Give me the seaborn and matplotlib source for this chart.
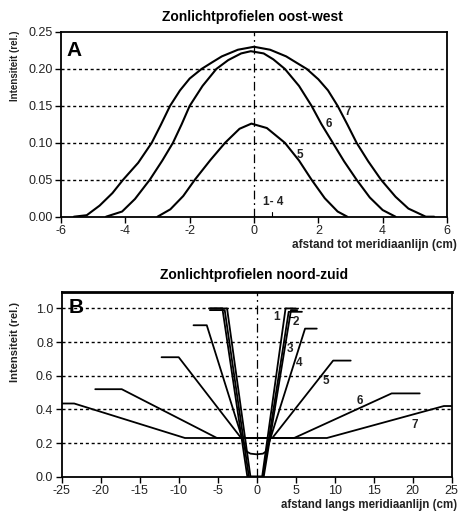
import matplotlib
matplotlib.use("Agg")
import matplotlib.pyplot as plt
import seaborn as sns

sns.set_theme(style="white")
plt.rcParams['font.family'] = ['Liberation Sans', 'DejaVu Sans']
plt.rcParams['axes.unicode_minus'] = False

# ---------------- Panel A data (oost-west) ----------------
a7_x = [-5.6, -5.2, -4.8, -4.4, -4.07, -3.6, -3.18, -2.9, -2.61, -2.3, -2.0, -1.63, -1.3, -1.0, -0.5, 0.0, 0.5, 1.0, 1.3, 1.64, 2.0, 2.3, 2.6, 2.9, 3.19, 3.55, 3.95, 4.4, 4.8, 5.34, 5.6]
a7_y = [0.0, 0.002, 0.015, 0.032, 0.05, 0.073, 0.10, 0.124, 0.15, 0.171, 0.187, 0.20, 0.209, 0.217, 0.226, 0.23, 0.226, 0.217, 0.209, 0.20, 0.186, 0.171, 0.15, 0.125, 0.10, 0.075, 0.05, 0.027, 0.011, 0.0, 0.0]
a6_x = [-4.6, -4.1, -3.7, -3.24, -2.85, -2.52, -2.25, -2.0, -1.6, -1.17, -0.8, -0.4, -0.1, 0.3, 0.6, 0.96, 1.4, 1.79, 2.1, 2.45, 2.8, 3.19, 3.6, 4.0, 4.4]
a6_y = [0.0, 0.007, 0.024, 0.05, 0.076, 0.10, 0.125, 0.15, 0.177, 0.20, 0.212, 0.221, 0.224, 0.221, 0.213, 0.20, 0.177, 0.15, 0.125, 0.10, 0.075, 0.05, 0.026, 0.009, 0.0]
a5_x = [-3.0, -2.6, -2.2, -1.84, -1.35, -0.9, -0.45, -0.08, 0.4, 0.96, 1.4, 1.79, 2.2, 2.6, 2.9]
a5_y = [0.0, 0.01, 0.028, 0.05, 0.077, 0.10, 0.119, 0.126, 0.12, 0.10, 0.076, 0.05, 0.025, 0.007, 0.0]
a_labels = ["7", "6", "5", "1- 4"]
a_label_x = [2.92, 2.33, 1.42, 0.59]
a_label_y = [0.142, 0.125, 0.083, 0.02]

# ---------------- Panel B data (noord-zuid) ----------------
b1_x = [-6.1, -4.4, -1.2, 0.7, 3.7, 5.0]
b1_y = [1.0, 1.0, 0.0, 0.0, 1.0, 1.0]
b2_x = [-6.0, -4.1, -1.0, 0.8, 4.1, 5.8]
b2_y = [0.99, 0.99, 0.0, 0.0, 0.98, 0.98]
b3_x = [-5.9, -3.8, -0.8, 0.9, 4.4, 5.2]
b3_y = [1.0, 1.0, 0.0, 0.0, 0.99, 0.99]
b4_x = [-8.1, -6.4, -1.6, -1.3, -0.8, 0.0, 0.8, 1.2, 1.5, 6.2, 7.7]
b4_y = [0.90, 0.90, 0.19, 0.15, 0.137, 0.133, 0.137, 0.15, 0.19, 0.88, 0.88]
b5_x = [-12.2, -10.0, -2.0, 2.0, 9.8, 12.05]
b5_y = [0.71, 0.71, 0.23, 0.23, 0.69, 0.69]
b6_x = [-20.7, -17.3, -5.1, 4.8, 17.3, 20.9]
b6_y = [0.52, 0.52, 0.23, 0.23, 0.495, 0.495]
b7_x = [-25.0, -23.4, -9.2, 9.0, 24.0, 25.0]
b7_y = [0.435, 0.435, 0.23, 0.23, 0.42, 0.42]
b_labels = ["1", "2", "3", "4", "5", "6", "7"]
b_label_x = [2.55, 5.0, 4.25, 5.5, 8.9, 13.25, 20.3]
b_label_y = [0.95, 0.92, 0.76, 0.675, 0.57, 0.45, 0.31]

W, H = 458, 513
fig = plt.figure(figsize=(W / 100, H / 100), dpi=100)
fig.patch.set_facecolor("white")

axA = fig.add_axes([61 / W, 1 - 216.7 / H, (447 - 61) / W, (216.7 - 32) / H])
axB = fig.add_axes([61.7 / W, 1 - 476.7 / H, (451.7 - 61.7) / W, (476.7 - 291.6) / H])

txt = "#222222"
grid_ls = (0, (2.2, 2.0))

def style(ax):
    ax.set_facecolor("white")
    for s in ax.spines.values():
        s.set_color("black")
        s.set_linewidth(1.3)
        s.set_visible(True)
    ax.tick_params(direction="out", length=4, width=1, colors="black",
                   labelcolor=txt, labelsize=9, pad=2, left=True, bottom=True)

# Panel A
for xs, ys in [(a7_x, a7_y), (a6_x, a6_y), (a5_x, a5_y)]:
    sns.lineplot(x=xs, y=ys, ax=axA, color="black", lw=1.5, sort=False, estimator=None)
axA.set_xlim(-6, 6)
axA.set_ylim(0, 0.25)
axA.set_xticks([-6, -4, -2, 0, 2, 4, 6])
axA.set_yticks([0.0, 0.05, 0.10, 0.15, 0.20, 0.25])
axA.set_yticklabels([f"{v:.2f}" for v in [0.0, 0.05, 0.10, 0.15, 0.20, 0.25]])
for g in [0.05, 0.10, 0.15, 0.20]:
    axA.axhline(g, color="black", lw=1.0, ls=grid_ls, zorder=0)
axA.axvline(0, color="black", lw=0.9, ls=(0, (7, 3, 1.5, 3)), zorder=0)
axA.plot([0.55, 0.55], [0.0, 0.007], color="black", lw=0.8)
for t, x, y in zip(a_labels, a_label_x, a_label_y):
    axA.text(x, y, t, fontsize=8.5, fontweight="bold", color=txt, ha="center", va="center")
axA.text(0.015, 0.9, "A", transform=axA.transAxes, fontsize=15, fontweight="bold",
         ha="left", va="center", color="black")
style(axA)
axA.set_xlabel("")
axA.set_ylabel("")

# Panel B
for xs, ys in [(b1_x, b1_y), (b2_x, b2_y), (b3_x, b3_y), (b4_x, b4_y),
               (b5_x, b5_y), (b6_x, b6_y), (b7_x, b7_y)]:
    sns.lineplot(x=xs, y=ys, ax=axB, color="black", lw=1.3, sort=False, estimator=None)
axB.set_xlim(-25, 25)
axB.set_ylim(0, 1.1)
axB.set_xticks(list(range(-25, 26, 5)))
axB.set_yticks([0.0, 0.2, 0.4, 0.6, 0.8, 1.0])
axB.set_yticklabels([f"{v:.1f}" for v in [0.0, 0.2, 0.4, 0.6, 0.8, 1.0]])
for g in [0.2, 0.4, 0.6, 0.8, 1.0]:
    axB.axhline(g, color="black", lw=1.0, ls=grid_ls, zorder=0)
axB.axvline(0, color="black", lw=0.9, ls=(0, (7, 3, 1.5, 3)), zorder=0)
axB.plot([4.1, 4.7], [0.95, 0.95], color="black", lw=0.8)
for t, x, y in zip(b_labels, b_label_x, b_label_y):
    axB.text(x, y, t, fontsize=8.5, fontweight="bold", color=txt, ha="center", va="center")
axB.text(0.017, 0.915, "B", transform=axB.transAxes, fontsize=15, fontweight="bold",
         ha="left", va="center", color="black")
style(axB)
axB.spines["top"].set_linewidth(2.0)
axB.set_xlabel("")
axB.set_ylabel("")

# Titles and axis labels
fig.text(252 / W, 1 - 17 / H, "Zonlichtprofielen oost-west", ha="center", va="center",
         fontsize=10, fontweight="bold", color="black")
fig.text(254 / W, 1 - 275 / H, "Zonlichtprofielen noord-zuid", ha="center", va="center",
         fontsize=10, fontweight="bold", color="black")
fig.text(15 / W, 1 - 66 / H, "Intensiteit (rel.)", rotation=90, ha="center", va="center",
         fontsize=7, fontweight="bold", color=txt)
fig.text(15 / W, 1 - 342 / H, "Intensiteit (rel.)", rotation=90, ha="center", va="center",
         fontsize=8, fontweight="bold", color=txt)
fig.text(457 / W, 1 - 245 / H, "afstand tot meridiaanlijn (cm)", ha="right", va="center",
         fontsize=8.5, fontweight="bold", color=txt)
fig.text(457 / W, 1 - 505 / H, "afstand langs meridiaanlijn (cm)", ha="right", va="center",
         fontsize=8.3, fontweight="bold", color=txt)

fig.savefig("out.png", dpi=100, facecolor="white")
